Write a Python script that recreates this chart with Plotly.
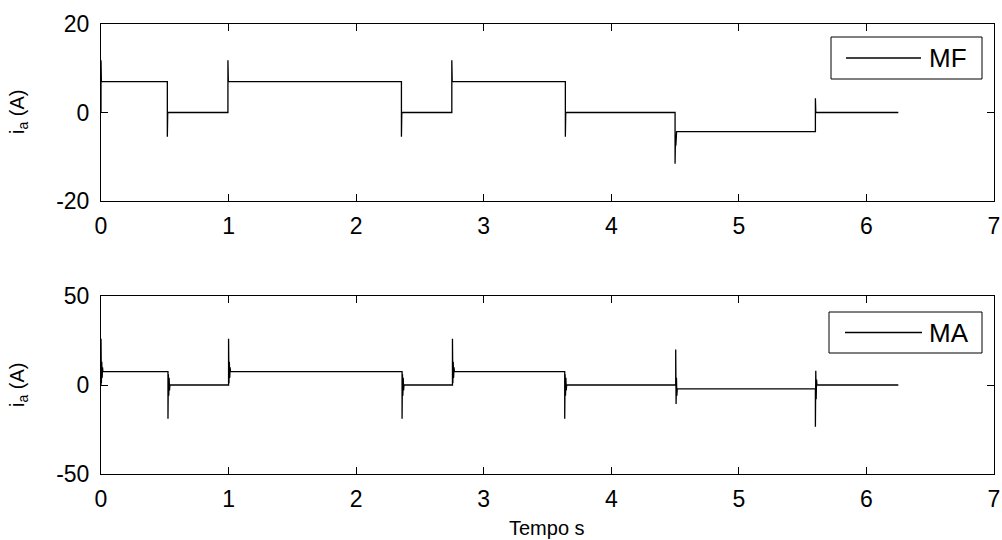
import plotly.graph_objects as go

# Phase current i_a for the two control modes (MF, MA)
# switching instants [s], level reached after each switch [A], first transient peak [A]
mf_switch_t = [0.0, 0.52, 0.995, 2.355, 2.75, 3.64, 4.50, 5.60]
mf_level = [7.0, 0.0, 7.0, 0.0, 7.0, 0.0, -4.3, 0.0]
mf_peak = [11.8, -5.5, 11.8, -5.5, 11.8, -5.5, -11.6, 3.2]
mf_ring = [[], [], [], [], [], [], [-6.0, -7.5, -5.0], []]

ma_switch_t = [0.0, 0.525, 1.0, 2.36, 2.755, 3.635, 4.505, 5.60]
ma_level = [7.5, 0.0, 7.5, 0.0, 7.5, 0.0, -2.2, 0.0]
ma_peak = [26.0, -19.0, 26.0, -19.0, 26.0, -19.0, 20.0, -23.5]
ma_ring = [[1.0, 13.0, 4.0, 10.0], [6.0, -6.0, 4.0, -3.0], [1.0, 13.0, 4.0, 10.0],
           [6.0, -6.0, 4.0, -3.0], [1.0, 13.0, 4.0, 10.0], [6.0, -6.0, 4.0, -3.0],
           [-10.7, 4.0, -6.0], [8.0, -8.0, 3.0]]

t_end = 6.25
ring_dt = 0.003

x_ticks = [0, 1, 2, 3, 4, 5, 6, 7]
mf_yticks = [-20, 0, 20]
ma_yticks = [-50, 0, 50]
series_names = ["MF", "MA"]


def build_trace(sw_t, level, peak, ring):
    t, y = [], []
    prev = 0.0
    for k, ts in enumerate(sw_t):
        t += [ts, ts]
        y += [prev, peak[k]]
        for j, r in enumerate(ring[k]):
            t.append(ts + (j + 1) * ring_dt)
            y.append(r)
        t.append(ts + (len(ring[k]) + 1) * ring_dt)
        y.append(level[k])
        nxt = sw_t[k + 1] if k + 1 < len(sw_t) else t_end
        t.append(nxt)
        y.append(level[k])
        prev = level[k]
    return t, y


mf_t, mf_i = build_trace(mf_switch_t, mf_level, mf_peak, mf_ring)
ma_t, ma_i = build_trace(ma_switch_t, ma_level, ma_peak, ma_ring)

W, H = 1002, 540
font = dict(family="Liberation Sans, Arial, sans-serif", color="black")
LW = 1.3

fig = go.Figure()
fig.add_trace(go.Scatter(x=mf_t, y=mf_i, mode="lines", name=series_names[0],
                         line=dict(color="black", width=LW), xaxis="x", yaxis="y"))
fig.add_trace(go.Scatter(x=ma_t, y=ma_i, mode="lines", name=series_names[1],
                         line=dict(color="black", width=LW), xaxis="x2", yaxis="y2"))

axis_common = dict(showline=True, linecolor="black", linewidth=1, mirror="ticks",
                   ticks="inside", ticklen=7, tickcolor="black", showgrid=False,
                   zeroline=False, automargin=False, tickfont=dict(size=23, **font))


def tick_text(vals):
    return [str(v) for v in vals]


fig.update_layout(
    template="none",
    width=W, height=H,
    margin=dict(l=0, r=0, t=0, b=0, autoexpand=False),
    paper_bgcolor="white", plot_bgcolor="white",
    showlegend=False,
    xaxis=dict(domain=[101 / W, 994 / W], range=[0, 7], tickvals=x_ticks,
               ticktext=tick_text(x_ticks), anchor="y", ticklabelstandoff=4, **axis_common),
    yaxis=dict(domain=[1 - 201 / H, 1 - 24 / H], range=[-20, 20], tickvals=mf_yticks,
               ticktext=tick_text(mf_yticks), anchor="x", ticklabelstandoff=6, **axis_common),
    xaxis2=dict(domain=[101 / W, 994 / W], range=[0, 7], tickvals=x_ticks,
                ticktext=tick_text(x_ticks), anchor="y2", ticklabelstandoff=4, **axis_common),
    yaxis2=dict(domain=[1 - 474 / H, 1 - 296 / H], range=[-50, 50], tickvals=ma_yticks,
                ticktext=tick_text(ma_yticks), anchor="x2", ticklabelstandoff=6, **axis_common),
)

# legend boxes (one per panel): frame, line sample and label
legend_boxes = [
    dict(x0=831, x1=982, y0=37, y1=79, lx0=846, lx1=921, tx=927),
    dict(x0=829, x1=982, y0=312, y1=353, lx0=845, lx1=922, tx=927),
]
shapes, annotations = [], []
for name, b in zip(series_names, legend_boxes):
    ym = (b["y0"] + b["y1"]) / 2
    shapes.append(dict(type="rect", xref="paper", yref="paper",
                       x0=b["x0"] / W, x1=b["x1"] / W, y0=1 - b["y1"] / H, y1=1 - b["y0"] / H,
                       line=dict(color="black", width=1), fillcolor="white", layer="above"))
    shapes.append(dict(type="line", xref="paper", yref="paper",
                       x0=b["lx0"] / W, x1=b["lx1"] / W, y0=1 - ym / H, y1=1 - ym / H,
                       line=dict(color="black", width=LW), layer="above"))
    annotations.append(dict(text=name, x=b["tx"] / W, y=1 - ym / H, xref="paper", yref="paper",
                            xanchor="left", yanchor="middle", showarrow=False,
                            font=dict(size=26, **font)))

annotations += [
    dict(text="i<sub>a</sub> (A)", x=19 / W, y=1 - 112 / H, xref="paper", yref="paper",
         xanchor="center", yanchor="middle",
         textangle=-90, showarrow=False, font=dict(size=20, **font)),
    dict(text="i<sub>a</sub> (A)", x=19 / W, y=1 - 385 / H, xref="paper", yref="paper",
         xanchor="center", yanchor="middle",
         textangle=-90, showarrow=False, font=dict(size=20, **font)),
    dict(text="Tempo s", x=547 / W, y=1 - 528 / H, xref="paper", yref="paper",
         xanchor="center", yanchor="middle",
         showarrow=False, font=dict(size=20, **font)),
]
fig.update_layout(shapes=shapes, annotations=annotations)

fig.write_html("out.html")
